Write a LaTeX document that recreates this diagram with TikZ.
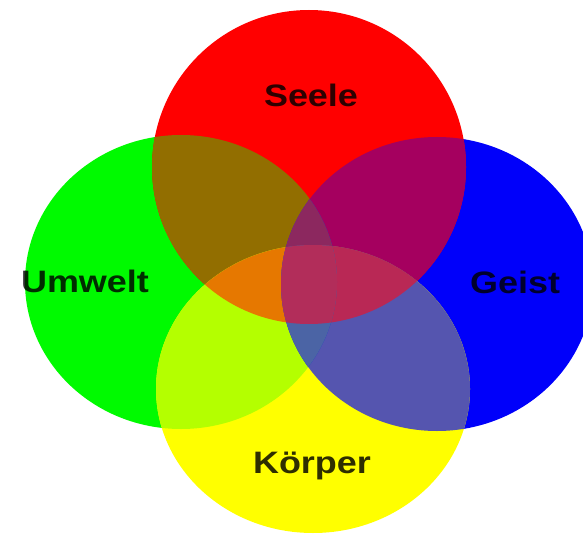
\documentclass[tikz,border=0pt]{standalone}
\usepackage{fontspec}
\setmainfont{Liberation Sans}
\definecolor{cR}{RGB}{255,0,0}
\definecolor{cG}{RGB}{0,250,0}
\definecolor{cB}{RGB}{0,0,250}
\definecolor{cY}{RGB}{255,255,0}
\definecolor{cRG}{RGB}{146,110,0}
\definecolor{cRB}{RGB}{165,0,95}
\definecolor{cGY}{RGB}{180,255,0}
\definecolor{cBY}{RGB}{85,85,175}
\definecolor{cRY}{RGB}{230,120,0}
\definecolor{cGB}{RGB}{30,60,200}
\definecolor{cRGY}{RGB}{230,120,0}
\definecolor{cRBY}{RGB}{185,40,85}
\definecolor{cRGB}{RGB}{140,40,95}
\definecolor{cGBY}{RGB}{75,100,165}
\definecolor{cRGBY}{RGB}{178,45,90}
\newcommand\Rpath{(309,167) ellipse [x radius=157pt, y radius=157pt]}
\newcommand\Gpath{(181,282) ellipse [x radius=156pt, y radius=147pt]}
\newcommand\Bpath{(437,284) ellipse [x radius=156pt, y radius=147pt]}
\newcommand\Ypath{(313,389) ellipse [x radius=157pt, y radius=144pt]}
\tikzset{lbl/.style={font=\fontsize{31}{31}\selectfont\bfseries, text=black, text opacity=0.82, inner sep=0pt, xscale=1.16}}
\begin{document}
\begin{tikzpicture}[x=1pt,y=-1pt]
\useasboundingbox (0,0) rectangle (583,540);
\fill[white] (0,0) rectangle (583,540);
% base discs
\fill[cG] \Gpath;
\fill[cB] \Bpath;
\fill[cY] \Ypath;
\fill[cR] \Rpath;
% pairs
\begin{scope}\clip \Rpath; \fill[cRG] \Gpath; \end{scope}
\begin{scope}\clip \Rpath; \fill[cRB] \Bpath; \end{scope}
\begin{scope}\clip \Rpath; \fill[cRY] \Ypath; \end{scope}
\begin{scope}\clip \Gpath; \fill[cGY] \Ypath; \end{scope}
\begin{scope}\clip \Bpath; \fill[cBY] \Ypath; \end{scope}
\begin{scope}\clip \Gpath; \fill[cGB] \Bpath; \end{scope}
% triples
\begin{scope}\clip \Rpath; \clip \Gpath; \fill[cRGY] \Ypath; \end{scope}
\begin{scope}\clip \Rpath; \clip \Bpath; \fill[cRBY] \Ypath; \end{scope}
\begin{scope}\clip \Rpath; \clip \Gpath; \fill[cRGB] \Bpath; \end{scope}
\begin{scope}\clip \Gpath; \clip \Bpath; \fill[cGBY] \Ypath; \end{scope}
% quadruple
\begin{scope}\clip \Rpath; \clip \Gpath; \clip \Bpath; \fill[cRGBY] \Ypath; \end{scope}
% labels
\node[lbl] (seele) at (311,95) {Seele};
\node[lbl] (umwelt) at (85,281) {Umwelt};
\node[lbl] (geist) at (515,282) {Geist};
\node[lbl] (koerper) at (312,466) {Körper};
\end{tikzpicture}
\end{document}
